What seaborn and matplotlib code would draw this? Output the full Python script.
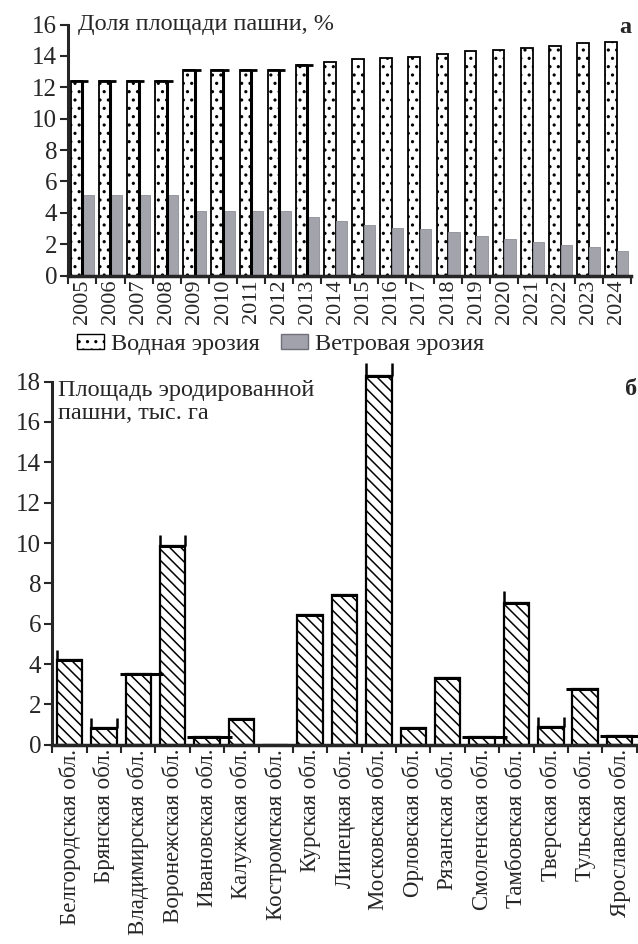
import numpy as np
import pandas as pd
import matplotlib
matplotlib.use("Agg")
import matplotlib.pyplot as plt
from matplotlib.patches import Patch
import seaborn as sns

# panel a: share of arable land affected by erosion, %
years = [str(y) for y in range(2005, 2025)]
water = [12.4, 12.4, 12.4, 12.4, 13.1, 13.1, 13.1, 13.1, 13.4, 13.6,
         13.8, 13.9, 13.95, 14.1, 14.3, 14.4, 14.5, 14.65, 14.8, 14.9]
wind = [5.15, 5.15, 5.15, 5.15, 4.1, 4.1, 4.1, 4.1, 3.75, 3.5,
        3.25, 3.05, 3.0, 2.75, 2.55, 2.35, 2.15, 1.95, 1.8, 1.6]
# first years have a wide cap on the water bar
capped_years = 9

# panel b: eroded arable land by region, thousand ha
regions = ["Белгородская обл.", "Брянская обл.", "Владимирская обл.",
           "Воронежская обл.", "Ивановская обл.", "Калужская обл.",
           "Костромская обл.", "Курская обл.", "Липецкая обл.",
           "Московская обл.", "Орловская обл.", "Рязанская обл.",
           "Смоленская обл.", "Тамбовская обл.", "Тверская обл.",
           "Тульская обл.", "Ярославская обл."]
area = [4.2, 0.82, 3.5, 9.85, 0.38, 1.27, 0.0, 6.43, 7.4,
        18.3, 0.83, 3.3, 0.38, 7.05, 0.9, 2.75, 0.45]
# bracket tops ('L' = left side only, 'B' = both sides)
bracket_top = [4.7, 1.35, None, 10.4, None, None, None, None, None,
               18.9, None, None, None, 7.6, 1.4, None, None]
bracket_side = ["L", "B", None, "B", None, None, None, None, None,
                "B", None, None, None, "L", "B", None, None]
# horizontal cap lines wider than the bar (left ext, right ext)
cap_ext = [(0, 0), (0, 0), (0.15, 0.35), (0, 0), (0.2, 0.35), (0, 0), (0, 0),
           (0, 0), (0, 0), (0, 0), (0, 0), (0, 0), (0.2, 0.35), (0, 0),
           (0, 0), (0.2, 0), (0.2, 0.3)]

sns.set_style("ticks")
plt.rcParams['font.family'] = ['Liberation Serif', 'DejaVu Serif']
plt.rcParams['hatch.linewidth'] = 1.1
FS = 17.5

fig = plt.figure(figsize=(6.38, 9.44), dpi=100)
ax1 = fig.add_axes([0.107, 0.708, 0.882, 0.266])
ax2 = fig.add_axes([0.082, 0.211, 0.916, 0.404])

# ---- panel a
df_a = pd.DataFrame({
    "year": years * 2,
    "value": water + wind,
    "type": ["Водная эрозия"] * len(years) + ["Ветровая эрозия"] * len(years),
})
sns.barplot(data=df_a, x="year", y="value", hue="type", ax=ax1,
            width=0.82, legend=False, palette=["white", "#a2a2ac"])
for p in ax1.containers[0]:
    p.set_hatch("..")
    p.set_edgecolor("black")
    p.set_linewidth(1.3)
for p in ax1.containers[1]:
    p.set_edgecolor("#8e8e98")
    p.set_linewidth(0.6)
for i, p in enumerate(ax1.containers[0][:capped_years]):
    x0 = p.get_x()
    w = p.get_width()
    h = p.get_height()
    ax1.hlines(h, x0, x0 + w * 1.5, color="black", lw=2)
    ax1.vlines(x0 + w, 0, h, color="black", lw=2.2)

n = len(years)
ax1.set_xlim(-0.5, n - 0.5)
ax1.set_ylim(0, 16)
ax1.set_yticks(range(0, 17, 2))
ax1.set_xticks(range(n))
ax1.set_xticklabels(years, rotation=90, fontsize=16)
ax1.set_xticks(np.arange(n + 1) - 0.5, minor=True)
ax1.tick_params(axis="x", which="major", length=0, pad=3)
ax1.tick_params(axis="x", which="minor", length=6, width=1.5)
ax1.tick_params(axis="y", labelsize=18, length=6, width=1.5, pad=2)
ax1.set_xlabel("")
ax1.set_ylabel("")
for s in ["top", "right"]:
    ax1.spines[s].set_visible(False)
ax1.spines["left"].set_linewidth(2.2)
ax1.spines["bottom"].set_linewidth(2.5)
ax1.text(0.018, 1.0, "Доля площади пашни, %", transform=ax1.transAxes,
         fontsize=FS, va="center", ha="left")
ax1.text(1.0, 0.99, "а", transform=ax1.transAxes, fontsize=FS,
         fontweight="bold", va="center", ha="right")

handles = [Patch(facecolor="white", edgecolor="black", hatch="..", label="Водная эрозия"),
           Patch(facecolor="#a2a2ac", edgecolor="#70707a", label="Ветровая эрозия")]
fig.legend(handles=handles, loc="center", bbox_to_anchor=(0.44, 0.635), ncol=2,
           frameon=False, fontsize=FS, handlelength=1.1, handleheight=0.6,
           handletextpad=0.3, columnspacing=0.9)

# ---- panel b
df_b = pd.DataFrame({"region": regions, "area": area})
sns.barplot(data=df_b, x="region", y="area", ax=ax2, color="white",
            edgecolor="black", linewidth=1.6, width=0.74)
for p in ax2.patches:
    p.set_hatch("\\\\\\")
    p.set_facecolor("white")
m = len(regions)
for i, p in enumerate(ax2.patches[:m]):
    x0 = p.get_x()
    w = p.get_width()
    h = p.get_height()
    if h <= 0:
        continue
    le, re = cap_ext[i]
    ax2.hlines(h, x0 - le, x0 + w + re, color="black", lw=2.2, clip_on=False)
    if bracket_top[i] is not None:
        ax2.vlines(x0, h, bracket_top[i], color="black", lw=1.8, clip_on=False)
        if bracket_side[i] == "B":
            ax2.vlines(x0 + w, h, bracket_top[i], color="black", lw=1.8, clip_on=False)

ax2.set_xlim(-0.5, m - 0.5)
ax2.set_ylim(0, 18.9)
ax2.set_yticks(range(0, 19, 2))
ax2.spines["left"].set_bounds(0, 18)
ax2.set_xticks(range(m))
ax2.set_xticklabels(regions, rotation=90, fontsize=16.5)
ax2.set_xticks(np.arange(m + 1) - 0.5, minor=True)
ax2.tick_params(axis="x", which="major", length=0, pad=3)
ax2.tick_params(axis="x", which="minor", length=6, width=1.5)
ax2.tick_params(axis="y", labelsize=18, length=6, width=1.5, pad=2)
ax2.set_xlabel("")
ax2.set_ylabel("")
for s in ["top", "right"]:
    ax2.spines[s].set_visible(False)
ax2.spines["left"].set_linewidth(2.2)
ax2.spines["bottom"].set_linewidth(2.5)
ax2.text(0.01, 18.1, "Площадь эродированной\nпашни, тыс. га",
         transform=ax2.get_yaxis_transform(), fontsize=FS, va="top",
         ha="left", linespacing=1.15)
ax2.text(1.0, 17.6, "б", transform=ax2.get_yaxis_transform(), fontsize=FS,
         fontweight="bold", va="center", ha="right")

fig.savefig("out.png", dpi=100)
